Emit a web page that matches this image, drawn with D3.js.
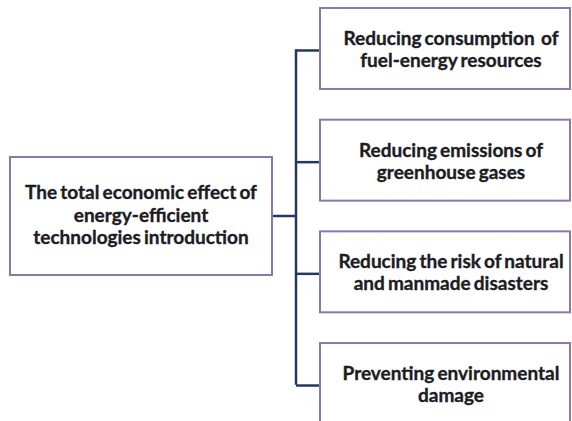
<!DOCTYPE html>
<html><head><meta charset="utf-8">
<script src="https://cdn.jsdelivr.net/npm/d3@7"></script>
<style>html,body{margin:0;padding:0;background:#fff;overflow:hidden}</style>
</head><body>
<script>
const rootLines = ["The total economic effect of", "energy-efficient", "technologies introduction"];
const childIds = ["fuel", "ghg", "risk", "damage"];
const childLines = [
  ["Reducing consumption  of", "fuel-energy resources"],
  ["Reducing emissions of", "greenhouse gases"],
  ["Reducing the risk of natural", "and manmade disasters"],
  ["Preventing environmental", "damage"]
];

const W = 572, H = 421;
const svg = d3.select("body").append("svg").attr("width", W).attr("height", H);

const boxStroke = "#8a78ad", lineStroke = "#24395e", textColor = "#1c1c24";
const font = "Lato, 'Open Sans', sans-serif";
const fs = 19;

const y = d3.scaleBand().domain(childIds).range([8, 424]).paddingInner(0.275).paddingOuter(0);
const childX0 = 320, childX1 = 570, trunkX = 296;
const root = {x0: 10, x1: 272, y0: 157, y1: 275};
const rootMidY = 216;

// connectors
const g = svg.append("g");
g.append("line").attr("x1", root.x1).attr("x2", trunkX).attr("y1", rootMidY).attr("y2", rootMidY)
  .attr("stroke", lineStroke).attr("stroke-width", 2.5);
g.append("line").attr("x1", trunkX).attr("x2", trunkX)
  .attr("y1", y(childIds[0]) + y.bandwidth()/2 + 2)
  .attr("y2", y(childIds[childIds.length-1]) + y.bandwidth()/2)
  .attr("stroke", lineStroke).attr("stroke-width", 2.5).attr("stroke-linecap", "square");
g.selectAll("line.branch").data(childIds).join("line").attr("class", "branch")
  .attr("x1", trunkX).attr("x2", childX0)
  .attr("y1", d => y(d) + y.bandwidth()/2 + 2).attr("y2", d => y(d) + y.bandwidth()/2 + 2)
  .attr("stroke", lineStroke).attr("stroke-width", 2.5);

function styleText(sel) {
  sel.attr("text-anchor", "middle").attr("font-family", font).attr("font-weight", 700)
    .attr("font-size", fs).attr("fill", textColor)
    .attr("stroke", textColor).attr("stroke-width", 0.35)
    .attr("word-spacing", -1.5);
}

// root box
svg.append("rect").attr("x", root.x0).attr("y", root.y0)
  .attr("width", root.x1 - root.x0).attr("height", root.y1 - root.y0)
  .attr("fill", "#fff").attr("stroke", boxStroke).attr("stroke-width", 2);
svg.append("g").selectAll("text").data(rootLines).join("text")
  .attr("x", (root.x0 + root.x1)/2).attr("y", (d, i) => 199 + i*22.5)
  .call(styleText).text(d => d);

// child boxes
const cg = svg.append("g").selectAll("g").data(childIds).join("g");
cg.append("rect").attr("x", childX0).attr("y", d => y(d))
  .attr("width", childX1 - childX0).attr("height", y.bandwidth())
  .attr("fill", "#fff").attr("stroke", boxStroke).attr("stroke-width", 2);
cg.each(function(d, i) {
  d3.select(this).selectAll("text").data(childLines[i]).join("text")
    .attr("x", (childX0 + childX1)/2 + 6)
    .attr("y", (t, j) => y(d) + 37 + j*22)
    .call(styleText)
    .attr("xml:space", "preserve").style("white-space", "pre").text(t => t);
});
</script>
</body></html>
